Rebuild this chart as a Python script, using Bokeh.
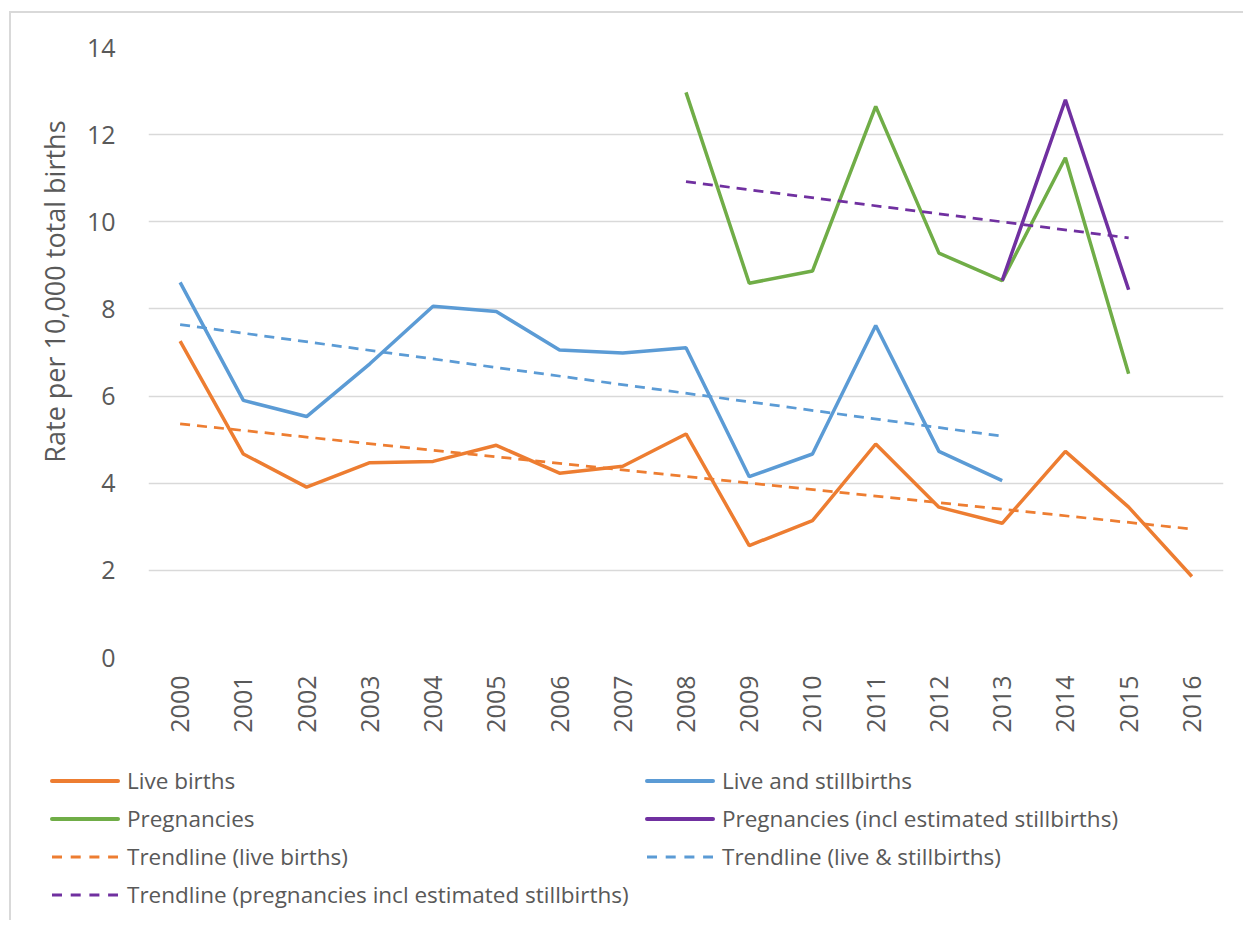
import math
from bokeh.plotting import figure
from bokeh.layouts import column
from bokeh.models import FactorRange, Range1d, SingleIntervalTicker, Title, Div
from bokeh.embed import file_html
from bokeh.resources import INLINE

years = [str(y) for y in range(2000, 2017)]

live_births = [7.26, 4.67, 3.91, 4.47, 4.50, 4.87, 4.23, 4.39, 5.13, 2.57,
               3.14, 4.90, 3.45, 3.08, 4.73, 3.45, 1.86]
live_still_years = years[:14]
live_still = [8.61, 5.90, 5.53, 6.74, 8.06, 7.94, 7.06, 6.99, 7.11, 4.15,
              4.67, 7.62, 4.73, 4.06]
preg_years = years[8:16]
pregnancies = [12.97, 8.59, 8.87, 12.65, 9.28, 8.65, 11.47, 6.51]
preg_est_years = years[13:16]
preg_est = [8.65, 12.80, 8.44]

trend_live_years = ["2000", "2016"]
trend_live = [5.36, 2.95]
trend_still_years = ["2000", "2013"]
trend_still = [7.64, 5.08]
trend_preg_years = ["2008", "2015"]
trend_preg = [10.92, 9.63]

legend_labels = ["Live births", "Live and stillbirths", "Pregnancies",
                 "Pregnancies (incl estimated stillbirths)",
                 "Trendline (live births)", "Trendline (live & stillbirths)",
                 "Trendline (pregnancies incl estimated stillbirths)"]

ORANGE = "#ED7D31"
BLUE = "#5B9BD5"
GREEN = "#70AD47"
PURPLE = "#7030A0"
TXT = "#595959"
FONT = "Open Sans"

p = figure(width=1232, height=732, x_range=FactorRange(factors=years),
           y_range=Range1d(0, 14), output_backend="svg", toolbar_location=None,
           min_border_left=137, min_border_right=20, min_border_top=34,
           min_border_bottom=88)
p.outline_line_color = None
p.background_fill_color = "white"
p.border_fill_color = "white"

p.xgrid.grid_line_color = None
p.ygrid.grid_line_color = "#d9d9d9"
p.ygrid.grid_line_width = 1.5

p.yaxis.ticker = SingleIntervalTicker(interval=2)
p.yaxis.axis_line_color = None
p.yaxis.major_tick_line_color = None
p.yaxis.minor_tick_line_color = None
p.yaxis.major_label_text_font = FONT
p.yaxis.major_label_text_font_size = "25px"
p.yaxis.major_label_text_color = TXT
p.yaxis.major_label_standoff = 27

ytitle = Title(text="Rate per 10,000 total births", align="right", offset=73,
               text_font=FONT, text_font_size="27px", text_font_style="normal",
               text_color=TXT, standoff=22)
p.add_layout(ytitle, "left")

p.xaxis.axis_line_color = None
p.xaxis.major_tick_line_color = None
p.xaxis.minor_tick_line_color = None
p.xaxis.major_label_text_font = FONT
p.xaxis.major_label_text_font_size = "25px"
p.xaxis.major_label_text_color = TXT
p.xaxis.major_label_orientation = math.pi / 2
p.xaxis.major_label_standoff = 12

lw = 3.5
tw = 2.75
dash = "10 7"
p.line(years, live_births, line_color=ORANGE, line_width=lw)
p.line(live_still_years, live_still, line_color=BLUE, line_width=lw)
p.line(preg_years, pregnancies, line_color=GREEN, line_width=lw)
p.line(preg_est_years, preg_est, line_color=PURPLE, line_width=lw)
p.line(trend_live_years, trend_live, line_color=ORANGE, line_width=tw, line_dash=dash)
p.line(trend_still_years, trend_still, line_color=BLUE, line_width=tw, line_dash=dash)
p.line(trend_preg_years, trend_preg, line_color=PURPLE, line_width=tw, line_dash=dash)

# legend (HTML, two columns, row-major like the original)
swatches = [(ORANGE, 4, None), (BLUE, 4, None), (GREEN, 4, None),
            (PURPLE, 4, None), (ORANGE, 3, "10 8.7"), (BLUE, 3, "10 8.7"),
            (PURPLE, 3, "10 8.7")]
cells = []
for lab, (c, w, d) in zip(legend_labels, swatches):
    da = f' stroke-dasharray="{d}"' if d else ""
    cap = "butt" if d else "round"
    cells.append(
        '<div style="display:flex;align-items:center;white-space:nowrap;height:38px;">'
        f'<svg width="70" height="22" style="flex:none;display:block;">'
        f'<line x1="2" y1="11" x2="68" y2="11" stroke="{c}" stroke-width="{w}" '
        f'stroke-linecap="{cap}"{da}/></svg>'
        f'<span style="margin-left:7px;line-height:38px;">{lab}</span></div>')
html = ('<div style="font-family:\'Open Sans\';font-size:22.5px;color:#595959;'
        'padding:17px 0 0 39px;display:grid;grid-template-columns:595px auto;'
        'grid-auto-rows:38px;">' + "".join(cells) + '</div>')
legend_div = Div(text=html, width=1232, height=175, margin=0)

layout = column(p, legend_div, spacing=0)
layout.styles = {"margin-left": "9px", "margin-top": "11px",
                 "border-left": "2px solid #d9d9d9",
                 "border-top": "2px solid #d9d9d9"}

open("out.html", "w").write(file_html(layout, INLINE))
